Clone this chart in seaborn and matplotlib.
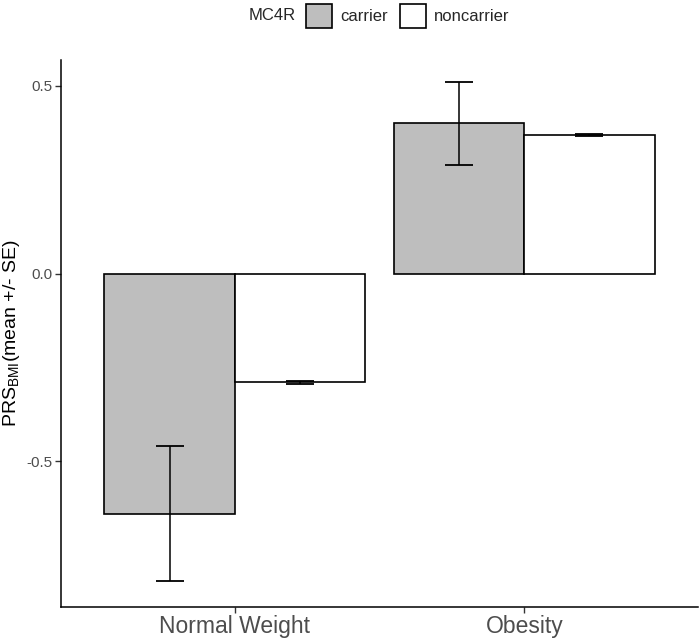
import numpy as np
import matplotlib
matplotlib.use('Agg')
import matplotlib.pyplot as plt
import pandas as pd
import seaborn as sns
from matplotlib.patches import Patch

# Data
groups = ['Normal Weight', 'Normal Weight', 'Obesity', 'Obesity']
mc4r = ['carrier', 'noncarrier', 'carrier', 'noncarrier']
prs_mean = [-0.64, -0.29, 0.40, 0.37]
prs_se = [0.18, 0.003, 0.11, 0.003]
y_ticks = [-0.5, 0.0, 0.5]
y_tick_labels = ['-0.5', '0.0', '0.5']

df = pd.DataFrame({'group': groups, 'MC4R': mc4r, 'mean': prs_mean, 'se': prs_se})
colors = {'carrier': '#BEBEBE', 'noncarrier': 'white'}

sns.set_theme(style='white')
plt.rcParams['font.family'] = ['Liberation Sans', 'DejaVu Sans']
plt.rcParams['mathtext.fontset'] = 'custom'
plt.rcParams['mathtext.rm'] = 'Liberation Sans'
plt.rcParams['mathtext.it'] = 'Liberation Sans:italic'

fig = plt.figure(figsize=(7, 6.4), dpi=100)
ax = fig.add_axes([61/700, 33/640, 637/700, 547/640])

sns.barplot(data=df, x='group', y='mean', hue='MC4R', hue_order=['carrier', 'noncarrier'],
            palette=colors, edgecolor='black', linewidth=1.2, width=0.9, gap=0,
            saturation=1, errorbar=None, legend=False, ax=ax)

# error bars at the centres of the bars seaborn drew
bars = sorted(ax.patches, key=lambda p: p.get_x())
ordered = df.sort_values(['group', 'MC4R'])
for p, m, s in zip(bars, ordered['mean'], ordered['se']):
    xc = p.get_x() + p.get_width() / 2
    ax.errorbar(xc, m, yerr=s, color='black', elinewidth=1.1, capsize=10.4, capthick=1.3, fmt='none')

ax.set_xlim(-0.6, 1.6)
ax.set_ylim(-0.888, 0.569)
ax.set_yticks(y_ticks)
ax.set_yticklabels(y_tick_labels)
ax.set_xlabel('')
ax.set_ylabel(r'PRS$_{\mathrm{BMI}}$(mean +/- SE)', fontsize=14, color='black')
ax.yaxis.set_label_coords(-0.062, 0.5)

for side in ['top', 'right']:
    ax.spines[side].set_visible(False)
for side in ['left', 'bottom']:
    ax.spines[side].set_color('black')
    ax.spines[side].set_linewidth(1.1)
ax.tick_params(axis='y', length=4, width=1, color='#333333', labelsize=11, labelcolor='#4D4D4D', pad=2, left=True)
ax.tick_params(axis='x', length=4, width=1, color='#333333', labelsize=16.5, labelcolor='#4D4D4D', pad=2, bottom=True)

# legend across the top, title on the left
fig.text(296/700, 1 - 16/640, 'MC4R', ha='right', va='center', fontsize=12)
handles = [Patch(facecolor=colors[k], edgecolor='black', linewidth=1.2) for k in ['carrier', 'noncarrier']]
fig.legend(handles, ['carrier', 'noncarrier'], ncol=2, loc='center left',
           bbox_to_anchor=(306/700, 1 - 16/640), frameon=False, fontsize=12,
           borderpad=0, borderaxespad=0, handlelength=1.56, handleheight=1.9,
           handletextpad=0.48, columnspacing=0.72)

plt.savefig('out.png', dpi=100)
